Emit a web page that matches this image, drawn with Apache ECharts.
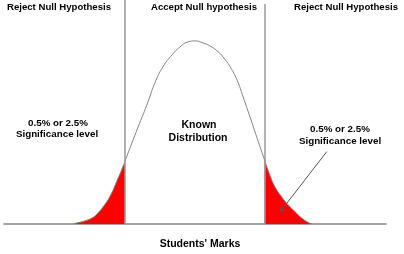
<!DOCTYPE html>
<html>
<head>
<meta charset="utf-8">
<script src="https://cdn.jsdelivr.net/npm/echarts@6/dist/echarts.min.js"></script>
<style>
html,body{margin:0;padding:0;background:#fff;}
#c{width:404px;height:254px;}
</style>
</head>
<body>
<div id="c"></div>
<script>
// Students' marks (x) and relative frequency (y) along the bell curve
const marks   = [18.1, 19.0, 21.2, 23.4, 24.7, 26.0, 27.7, 29.5, 31.2, 31.7, 35.1, 37.4, 39.5, 41.6, 44.0, 46.1, 48.2, 50.0, 52.1, 53.9, 55.8, 57.3, 59.2, 61.0, 62.6, 64.4, 68.2, 69.6, 70.9, 72.7, 74.4, 76.2, 77.9, 79.7, 80.6];
const density = [0, 0.5, 1.7, 3.7, 6.2, 9.4, 14.8, 23.0, 31.3, 34.1, 52.4, 64.3, 76.2, 84.9, 91.4, 95.7, 98.4, 98.9, 97.8, 96.2, 93.5, 90.3, 84.9, 77.8, 68.6, 57.8, 34.6, 26.5, 20.2, 14.6, 10.3, 6.6, 3.3, 0.8, 0];
const criticalMarks = [31.7, 68.2];
const criticalTops = [121, 118.9];
const regionLabels = ["Reject Null Hypothesis", "Accept Null hypothesis", "Reject Null Hypothesis"];
const significanceLabel = ["0.5% or 2.5%", "Significance level"];
const distributionLabel = ["Known", "Distribution"];
const xAxisTitle = "Students' Marks";
const arrowFrom = [84.5, 39.1];
const arrowTo = [72.3, 6.6];

const curve = marks.map((m, i) => [m, density[i]]);
const leftTail = curve.filter(p => p[0] <= criticalMarks[0]);
const rightTail = curve.filter(p => p[0] >= criticalMarks[1]);

const chart = echarts.init(document.getElementById('c'), null, {renderer: 'canvas'});
const F = '"Liberation Sans", Arial, sans-serif';
function txt(x, y, s, size) {
  return {type: 'text', x: x, y: y, silent: true,
    style: {text: s, font: 'bold ' + size + 'px ' + F, fill: '#000', align: 'center', verticalAlign: 'middle'}};
}
const SM = 0.5;
const option = {
  animation: false,
  grid: {left: 4, right: 18, top: 0, bottom: 30},
  xAxis: {type: 'value', min: 0, max: 100,
    axisLine: {show: true, lineStyle: {color: '#858585', width: 1.5}},
    axisTick: {show: false}, axisLabel: {show: false}, splitLine: {show: false}},
  yAxis: {type: 'value', min: 0, max: 121,
    axisLine: {show: false}, axisTick: {show: false}, axisLabel: {show: false}, splitLine: {show: false}},
  series: [
    {type: 'line', data: leftTail, smooth: SM, symbol: 'none', lineStyle: {width: 0},
     areaStyle: {color: '#ff0000', opacity: 1}, z: 2, silent: true},
    {type: 'line', data: rightTail, smooth: SM, symbol: 'none', lineStyle: {width: 0},
     areaStyle: {color: '#ff0000', opacity: 1}, z: 2, silent: true,
     markLine: {silent: true, symbol: ['none', 'arrow'], symbolSize: [4, 5],
       lineStyle: {color: '#555', width: 1, type: 'solid'}, label: {show: false},
       data: [[{coord: arrowFrom}, {coord: arrowTo}]]}},
    {type: 'line', data: curve, smooth: SM, symbol: 'none',
     lineStyle: {color: '#858585', width: 1}, z: 4, silent: true,
     markLine: {silent: true, symbol: ['none', 'none'],
       lineStyle: {color: '#9a9a9a', width: 1.5, type: 'solid'}, label: {show: false},
       data: criticalMarks.map((c, i) => [{coord: [c, 0]}, {coord: [c, criticalTops[i]]}])}}
  ],
  graphic: [
    txt(59, 7, regionLabels[0], 9.6),
    txt(204, 7, regionLabels[1], 9.6),
    txt(346, 7, regionLabels[2], 9.6),
    txt(58, 123, significanceLabel[0], 9.8),
    txt(57, 134, significanceLabel[1], 9.8),
    txt(340, 129, significanceLabel[0], 9.8),
    txt(340, 141, significanceLabel[1], 9.8),
    txt(199, 125, distributionLabel[0], 10.5),
    txt(198, 138, distributionLabel[1], 10.5),
    txt(200, 244, xAxisTitle, 10.5)
  ]
};
chart.setOption(option);
</script>
</body>
</html>
